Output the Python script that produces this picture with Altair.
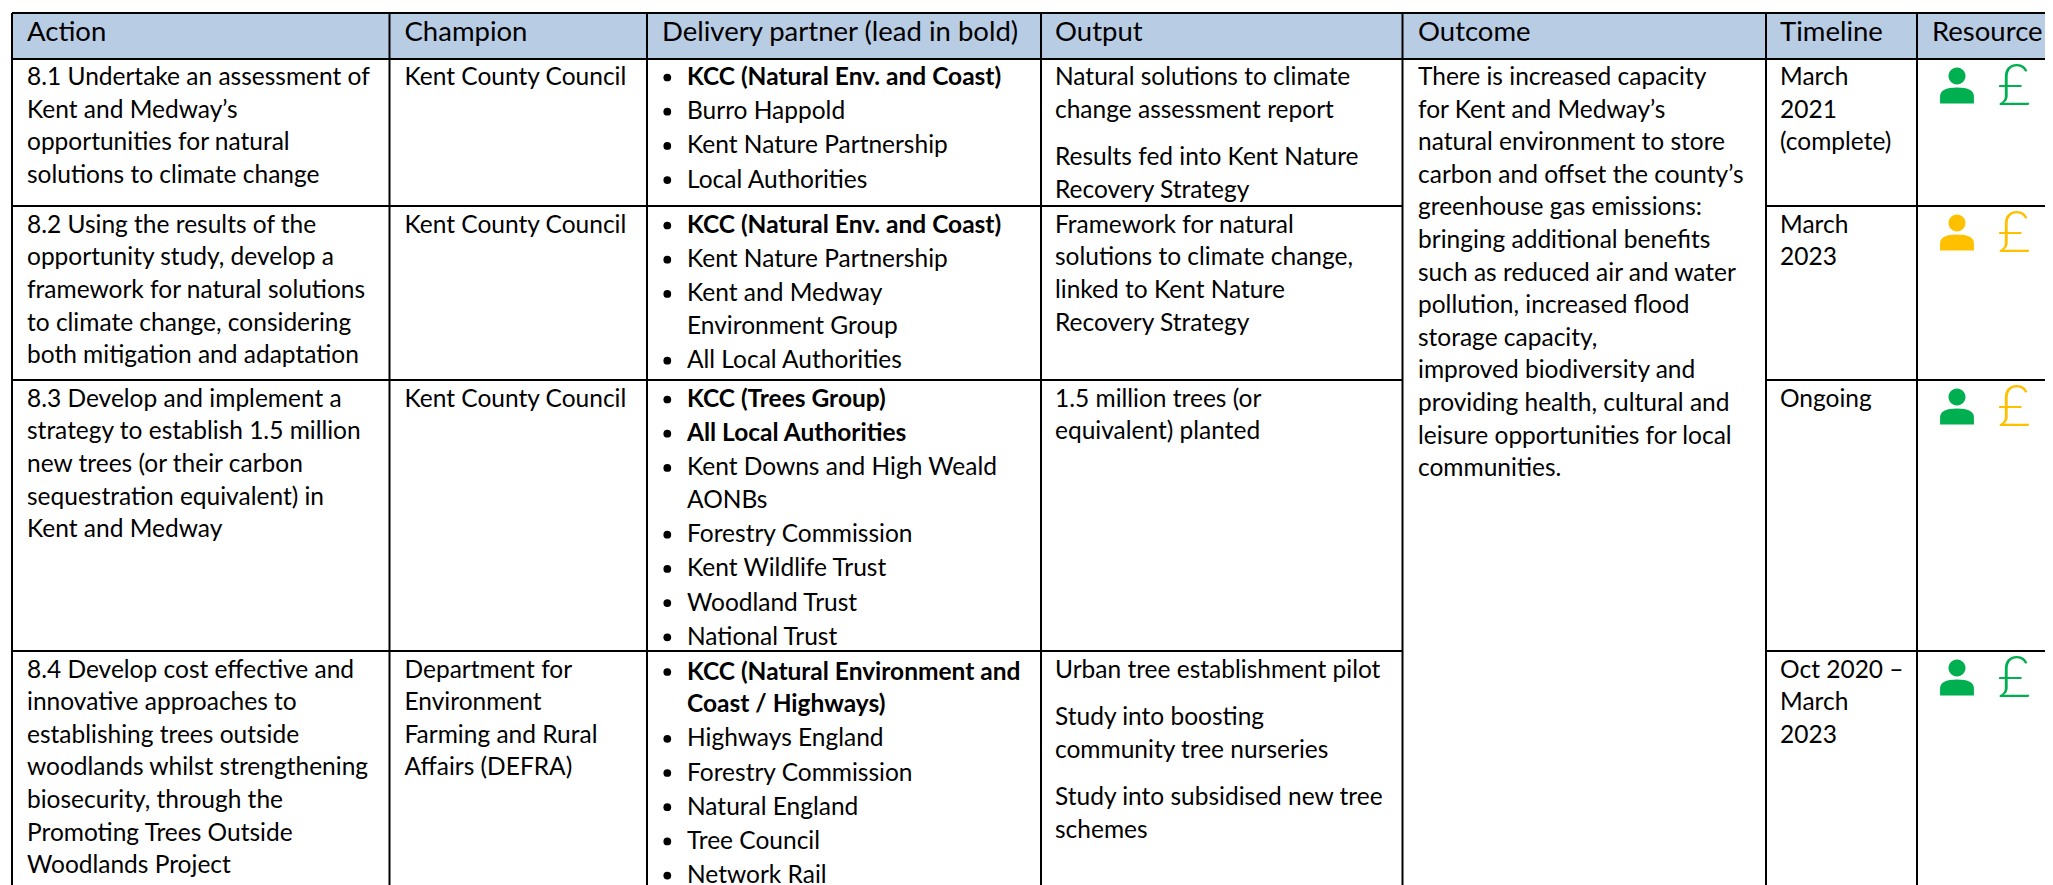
import altair as alt
import pandas as pd

# ---------- content ----------
headers = ["Action", "Champion", "Delivery partner (lead in bold)", "Output", "Outcome", "Timeline", "Resource"]

actions = [
    ["8.1 Undertake an assessment of", "Kent and Medway\u2019s", "opportunities for natural", "solutions to climate change"],
    ["8.2 Using the results of the", "opportunity study, develop a", "framework for natural solutions", "to climate change, considering", "both mitigation and adaptation"],
    ["8.3 Develop and implement a", "strategy to establish 1.5 million", "new trees (or their carbon", "sequestration equivalent) in", "Kent and Medway"],
    ["8.4 Develop cost effective and", "innovative approaches to", "establishing trees outside", "woodlands whilst strengthening", "biosecurity, through the", "Promoting Trees Outside", "Woodlands Project"],
]
champions = [
    ["Kent County Council"],
    ["Kent County Council"],
    ["Kent County Council"],
    ["Department for", "Environment", "Farming and Rural", "Affairs (DEFRA)"],
]
# each partner: (lines, bold)
partners = [
    [(["KCC (Natural Env. and Coast)"], True), (["Burro Happold"], False), (["Kent Nature Partnership"], False), (["Local Authorities"], False)],
    [(["KCC (Natural Env. and Coast)"], True), (["Kent Nature Partnership"], False), (["Kent and Medway", "Environment Group"], False), (["All Local Authorities"], False)],
    [(["KCC (Trees Group)"], True), (["All Local Authorities"], True), (["Kent Downs and High Weald", "AONBs"], False), (["Forestry Commission"], False), (["Kent Wildlife Trust"], False), (["Woodland Trust"], False), (["National Trust"], False)],
    [(["KCC (Natural Environment and", "Coast / Highways)"], True), (["Highways England"], False), (["Forestry Commission"], False), (["Natural England"], False), (["Tree Council"], False), (["Network Rail"], False)],
]
# outputs: list of paragraphs
outputs = [
    [["Natural solutions to climate", "change assessment report"], ["Results fed into Kent Nature", "Recovery Strategy"]],
    [["Framework for natural", "solutions to climate change,", "linked to Kent Nature", "Recovery Strategy"]],
    [["1.5 million trees (or", "equivalent) planted"]],
    [["Urban tree establishment pilot"], ["Study into boosting", "community tree nurseries"], ["Study into subsidised new tree", "schemes"]],
]
outcome = ["There is increased capacity", "for Kent and Medway\u2019s", "natural environment to store", "carbon and offset the county\u2019s",
           "greenhouse gas emissions:", "bringing additional benefits", "such as reduced air and water", "pollution, increased flood",
           "storage capacity,", "improved biodiversity and", "providing health, cultural and", "leisure opportunities for local", "communities."]
timelines = [["March", "2021", "(complete)"], ["March", "2023"], ["Ongoing"], ["Oct 2020 \u2013", "March", "2023"]]
person_status = ["green", "amber", "green", "green"]
pound_status = ["green", "amber", "amber", "green"]

# ---------- layout ----------
W, H = 2053, 885
CW, CH = W - 16, H - 8
col_edges = [12, 389.5, 647, 1041, 1402.5, 1766, 1917, 2060]
row_edges = [13, 59, 206, 380, 651, 900]
text_x = [27, 404.5, 687, 1055, 1418, 1780, 1932]
head_x = [27, 404.5, 662, 1055, 1418, 1780, 1932]
bullet_x = 667.3
LH = 32.6
BULLET_LH = 34.2
PARA_GAP = 15
FIRST = [26, 26.7, 26.7, 26.5]
BULLET_FIRST = [26, 27, 27, 28.5]
FONT = "Lato"
BODY = 24.5
HEAD = 27.5
PALETTE = {"green": "#00B050", "amber": "#FFC000"}
PERSON = ("M-0.47,0.5 L-0.47,0.3 Q-0.47,0.056 0,0.056 Q0.47,0.056 0.47,0.3 L0.47,0.5 Z "
          "M-0.236,-0.264 A0.236,0.236 0 1 1 0.236,-0.264 A0.236,0.236 0 1 1 -0.236,-0.264 Z")

rows_text, rows_bold, rows_bullet = [], [], []
for r in range(4):
    top = row_edges[r + 1] + FIRST[r]
    for i, t in enumerate(actions[r]):
        rows_text.append(dict(x=text_x[0], y=top + i * LH, t=t))
    for i, t in enumerate(champions[r]):
        rows_text.append(dict(x=text_x[1], y=top + i * LH, t=t))
    y = row_edges[r + 1] + BULLET_FIRST[r]
    for lines, bold in partners[r]:
        rows_bullet.append(dict(x=bullet_x, y=y - 7.5))
        for j, t in enumerate(lines):
            (rows_bold if bold else rows_text).append(dict(x=text_x[2], y=y + j * LH, t=t))
        y += (len(lines) - 1) * LH + BULLET_LH
    n = 0
    for p, para in enumerate(outputs[r]):
        for t in para:
            rows_text.append(dict(x=text_x[3], y=top + n * LH + p * PARA_GAP, t=t))
            n += 1
    for i, t in enumerate(timelines[r]):
        rows_text.append(dict(x=text_x[5], y=top + i * LH, t=t))
for i, t in enumerate(outcome):
    rows_text.append(dict(x=text_x[4], y=row_edges[1] + FIRST[0] + i * LH, t=t))

head_df = pd.DataFrame([dict(x=head_x[i], y=row_edges[0] + 28, t=h) for i, h in enumerate(headers)])
text_df = pd.DataFrame(rows_text)
bold_df = pd.DataFrame(rows_bold)
bullet_df = pd.DataFrame(rows_bullet)

persons = pd.DataFrame([dict(x=1957, y=row_edges[r + 1] + 26.5, c=PALETTE[person_status[r]]) for r in range(4)])
pounds = pd.DataFrame([dict(x=2014, y=row_edges[r + 1] + 46, c=PALETTE[pound_status[r]], t="\u00a3") for r in range(4)])

rules = []
for x in col_edges[:-1]:
    rules.append(dict(x=x, x2=x, y=row_edges[0], y2=H))
for i, y in enumerate(row_edges[:-1]):
    if i < 2:
        rules.append(dict(x=col_edges[0], x2=W, y=y, y2=y))
    else:
        rules.append(dict(x=col_edges[0], x2=col_edges[4], y=y, y2=y))
        rules.append(dict(x=col_edges[5], x2=W, y=y, y2=y))
rules_df = pd.DataFrame(rules)

X = alt.X("x:Q", scale=alt.Scale(domain=[8, 8 + CW], range=[0, CW], nice=False, zero=False), axis=None)
Y = alt.Y("y:Q", scale=alt.Scale(domain=[8, 8 + CH], range=[0, CH], nice=False, zero=False), axis=None)

band = alt.Chart(pd.DataFrame([dict(x=col_edges[0], x2=W, y=row_edges[0], y2=row_edges[1])])).mark_rect(color="#B8CCE4").encode(
    x=X, x2="x2:Q", y=Y, y2="y2:Q")
lines = alt.Chart(rules_df).mark_rule(color="#000000", strokeWidth=2).encode(x=X, x2="x2:Q", y=Y, y2="y2:Q")


def txt(df, size, weight="normal", font=FONT):
    return alt.Chart(df).mark_text(align="left", baseline="alphabetic", font=font, fontSize=size, fontWeight=weight, color="#000000").encode(
        x=X, y=Y, text="t:N")


layers = [
    band, lines,
    txt(head_df, HEAD), txt(text_df, BODY), txt(bold_df, BODY, "bold"),
    alt.Chart(bullet_df).mark_circle(color="#000000", size=60, opacity=1).encode(x=X, y=Y),
    alt.Chart(persons).mark_point(shape=PERSON, filled=True, size=5184, opacity=1).encode(
        x=X, y=Y, color=alt.Color("c:N", scale=None)),
    alt.Chart(pounds).mark_text(align="center", baseline="alphabetic", font="Lato", fontWeight=300, fontSize=58).encode(
        x=X, y=Y, text="t:N", color=alt.Color("c:N", scale=None)),
]

chart = alt.layer(*layers).properties(width=CW, height=CH, padding=0, autosize=alt.AutoSizeParams(type="none")).configure_view(stroke=None)
chart.save("out.html", embed_options={"renderer": "svg", "actions": False})
